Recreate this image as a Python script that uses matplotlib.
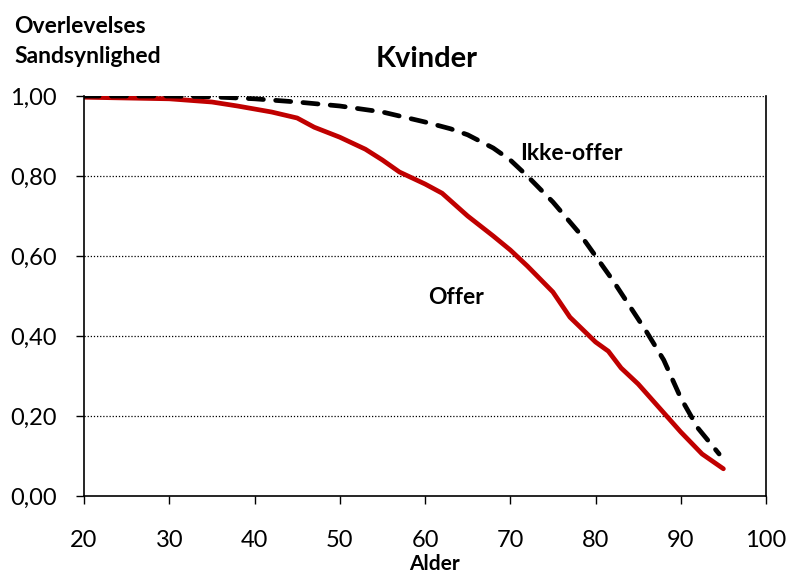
import matplotlib.pyplot as plt
from matplotlib.ticker import FuncFormatter

# survival curves
offer_age = [20, 25, 30, 35, 38, 42, 45, 47, 50, 53, 55, 57, 60, 62, 65, 68, 70, 72,
             75, 77, 80, 81.5, 83, 85, 87.5, 90, 92.5, 95]
offer_p = [0.997, 0.995, 0.993, 0.985, 0.975, 0.96, 0.945, 0.922, 0.897, 0.867, 0.84,
           0.81, 0.78, 0.757, 0.70, 0.65, 0.615, 0.575, 0.51, 0.447, 0.385, 0.362,
           0.32, 0.28, 0.22, 0.16, 0.105, 0.068]

ikke_age = [20, 30, 35, 40, 45, 50, 55, 60, 63, 65, 68, 70, 72, 75, 78, 80, 82, 84,
            86, 88, 90, 92, 94.5]
ikke_p = [1.0, 1.0, 0.998, 0.993, 0.985, 0.975, 0.96, 0.935, 0.918, 0.903, 0.87, 0.84,
          0.80, 0.735, 0.66, 0.60, 0.54, 0.475, 0.41, 0.34, 0.245, 0.17, 0.105]

plt.rcParams['font.family'] = ['Lato', 'DejaVu Sans']

fig = plt.figure(figsize=(7.92, 5.78), dpi=100)
ax = fig.add_axes([0.1061, 0.1419, 0.8611, 0.692])

ax.plot(offer_age, offer_p, color='#c00000', lw=3.4, solid_capstyle='round',
        solid_joinstyle='round')
ax.plot(ikke_age, ikke_p, color='black', lw=3.4, dashes=(3.2, 2.6), dash_capstyle='round')

ax.set_xlim(20, 100)
ax.set_ylim(0, 1)
ax.set_xticks(range(20, 101, 10))
ax.set_yticks([0, 0.2, 0.4, 0.6, 0.8, 1.0])
ax.yaxis.set_major_formatter(FuncFormatter(lambda v, p: f'{v:.2f}'.replace('.', ',')))
ax.tick_params(labelsize=17, length=5.5, width=1, direction='out')
ax.tick_params(axis='x', pad=19)
ax.tick_params(axis='y', pad=14)

for y in [0.2, 0.4, 0.6, 0.8, 1.0]:
    ax.axhline(y, color='black', lw=0.9, ls=(0, (1, 1.5)), zorder=0)
ax.spines['top'].set_visible(False)
for s in ['left', 'bottom', 'right']:
    ax.spines[s].set_linewidth(1.2)

fig.text(0.549, 0.013, 'Alder', fontsize=15, fontweight='bold', ha='center', va='baseline')
fig.text(0.0177, 0.943, 'Overlevelses', fontsize=16.5, fontweight='bold', va='baseline')
fig.text(0.0177, 0.891, 'Sandsynlighed', fontsize=16.5, fontweight='bold', va='baseline')
fig.text(0.539, 0.884, 'Kvinder', fontsize=21, fontweight='bold', ha='center', va='baseline')

ax.text(71.1, 0.84, 'Ikke-offer', fontsize=16.5, fontweight='bold', va='baseline')
ax.text(60.35, 0.48, 'Offer', fontsize=16.5, fontweight='bold', va='baseline')

fig.savefig('out.png', dpi=100)
